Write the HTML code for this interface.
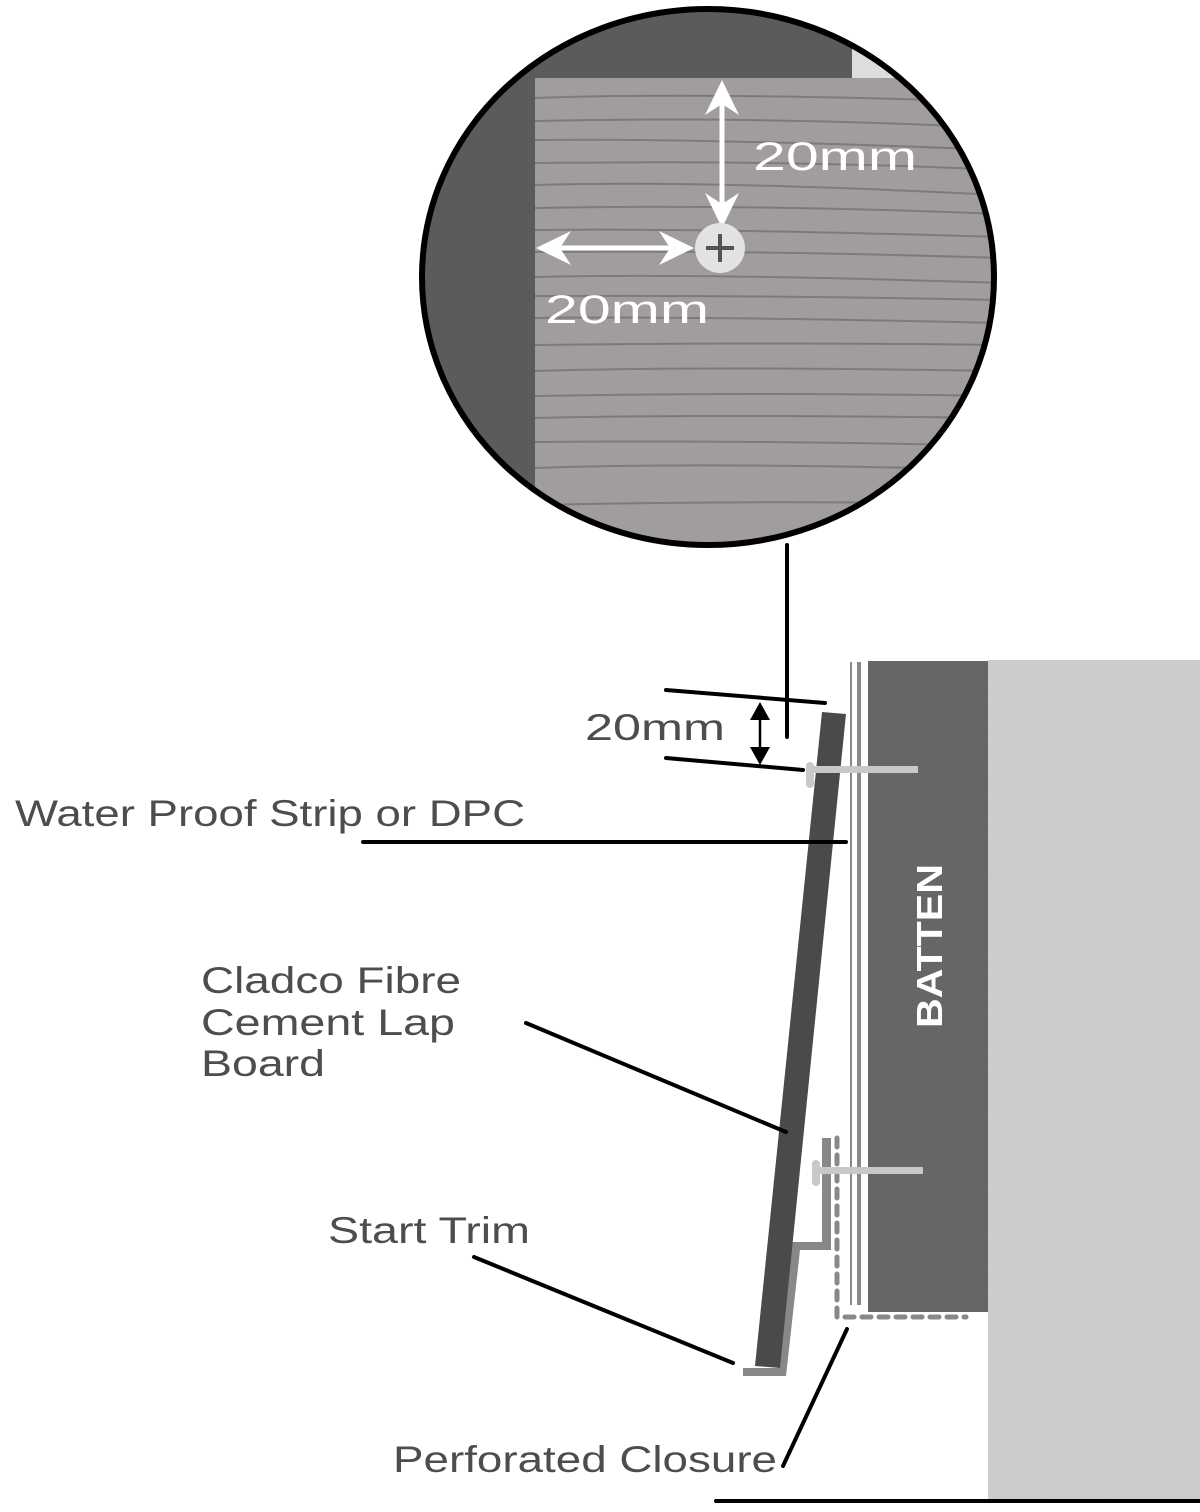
<!DOCTYPE html>
<html><head><meta charset="utf-8"><style>
html,body{margin:0;padding:0;background:#fff;width:1200px;height:1512px;overflow:hidden}
svg{display:block}
text{font-family:"Liberation Sans",sans-serif}
</style></head><body>
<svg width="1200" height="1512" viewBox="0 0 1200 1512" xmlns="http://www.w3.org/2000/svg">
<defs>
<clipPath id="cc"><ellipse cx="708" cy="277" rx="286" ry="268"/></clipPath>
<filter id="noise" x="0" y="0" width="1" height="1"><feTurbulence type="fractalNoise" baseFrequency="0.9" numOctaves="2" seed="3"/><feColorMatrix type="matrix" values="0 0 0 0 0.7  0 0 0 0 0.7  0 0 0 0 0.7  0 0 0 -0.9 0.75"/></filter>
</defs>
<!-- concrete -->
<rect x="988" y="660" width="212" height="840" fill="#c9c9c9"/>
<rect x="988" y="660" width="212" height="840" fill="#bbb" filter="url(#noise)" opacity="0.6"/>
<!-- batten -->
<rect x="868" y="661" width="120" height="651" fill="#666"/>
<text x="0" y="0" transform="translate(942,1028) rotate(-90)" fill="#fff" font-size="36" font-weight="bold" textLength="164" lengthAdjust="spacingAndGlyphs">BATTEN</text>
<!-- membrane lines -->
<line x1="851" y1="662" x2="851" y2="1305" stroke="#888" stroke-width="2"/>
<line x1="859" y1="662" x2="859" y2="1305" stroke="#888" stroke-width="4"/>
<!-- perforated closure -->
<path d="M837 1138 L837 1317 L966 1317" fill="none" stroke="#888" stroke-width="5" stroke-dasharray="9 8" stroke-linecap="round"/>
<!-- start trim -->
<path d="M822 1138 L831 1138 L831 1250 L800 1250 L786 1376 L743 1376 L743 1368 L778 1368 L792 1242 L822 1242 Z" fill="#888"/>
<!-- board -->
<polygon points="822,712 846,714 780,1368 755,1366" fill="#4a4a4a"/>
<!-- nails -->
<rect x="806" y="762" width="8" height="26" rx="4" fill="#c8c8c8"/>
<rect x="810" y="766" width="108" height="7" fill="#c8c8c8"/>
<rect x="812" y="1160" width="8" height="26" rx="4" fill="#c8c8c8"/>
<rect x="816" y="1167" width="107" height="7" fill="#c8c8c8"/>
<!-- circle detail -->
<g clip-path="url(#cc)">
<rect x="420" y="0" width="600" height="560" fill="#5b5b5b"/>
<rect x="852" y="40" width="160" height="40" fill="#ddd"/>
<rect x="535" y="78" width="480" height="480" fill="#a09d9c"/>
<g stroke="#7d7a79" stroke-width="2" fill="none">
<path d="M535 98 Q700 92 1000 102"/><path d="M535 121 Q760 116 1000 128"/><path d="M535 140 Q700 138 1000 150"/>
<path d="M535 163 Q800 160 1000 170"/><path d="M535 185 Q700 180 1000 195"/><path d="M535 208 Q760 204 1000 214"/>
<path d="M535 230 Q700 228 1000 237"/><path d="M535 252 Q760 250 1000 258"/><path d="M535 277 Q700 273 1000 283"/>
<path d="M535 296 Q760 295 1000 300"/><path d="M535 318 Q700 316 1000 323"/><path d="M535 345 Q760 342 1000 345"/>
<path d="M535 371 Q700 366 1000 371"/><path d="M535 396 Q760 392 1000 396"/><path d="M535 418 Q700 414 1000 418"/>
<path d="M535 442 Q760 440 1000 446"/><path d="M535 468 Q700 462 1000 470"/><path d="M535 505 Q760 500 1000 504"/>
</g>
</g>
<ellipse cx="708" cy="277" rx="286" ry="268" fill="none" stroke="#000" stroke-width="6"/>
<!-- circle arrows -->
<g fill="#fff" stroke="#fff">
<line x1="722" y1="100" x2="722" y2="206" stroke-width="5"/>
<polygon points="722,80 705,115 722,104 739,115" stroke="none"/>
<polygon points="722,228 705,193 722,204 739,193" stroke="none"/>
<line x1="555" y1="248" x2="675" y2="248" stroke-width="5"/>
<polygon points="536,248 571,231 560,248 571,265" stroke="none"/>
<polygon points="694,248 659,231 670,248 659,265" stroke="none"/>
</g>
<circle cx="720" cy="248" r="25" fill="#e2e2e2"/>
<path d="M720 234 V262 M706 248 H734" stroke="#555" stroke-width="4"/>
<text x="753" y="170" fill="#fff" font-size="40" textLength="164" lengthAdjust="spacingAndGlyphs">20mm</text>
<text x="545" y="323" fill="#fff" font-size="40" textLength="164" lengthAdjust="spacingAndGlyphs">20mm</text>
<!-- leaders -->
<g stroke="#000" stroke-width="4" stroke-linecap="round" fill="none">
<line x1="787" y1="545" x2="787" y2="737"/>
<line x1="666" y1="690" x2="825" y2="703"/>
<line x1="666" y1="758" x2="803" y2="770"/>
<line x1="363" y1="842" x2="846" y2="842"/>
<line x1="526" y1="1023" x2="786" y2="1132"/>
<line x1="474" y1="1257" x2="733" y2="1363"/>
<line x1="847" y1="1329" x2="783" y2="1466"/>
<line x1="716" y1="1501" x2="1200" y2="1501"/>
</g>
<line x1="760" y1="712" x2="760" y2="755" stroke="#000" stroke-width="2.5"/>
<polygon points="760,702 750,720 770,720" fill="#000"/>
<polygon points="760,765 750,747 770,747" fill="#000"/>
<!-- labels -->
<g fill="#4d4d4d" font-size="37">
<text x="585" y="740" textLength="140" lengthAdjust="spacingAndGlyphs">20mm</text>
<text x="15" y="826" textLength="510" lengthAdjust="spacingAndGlyphs">Water Proof Strip or DPC</text>
<text x="201" y="993" textLength="260" lengthAdjust="spacingAndGlyphs">Cladco Fibre</text>
<text x="201" y="1035" textLength="254" lengthAdjust="spacingAndGlyphs">Cement Lap</text>
<text x="201" y="1076" textLength="124" lengthAdjust="spacingAndGlyphs">Board</text>
<text x="328" y="1243" textLength="202" lengthAdjust="spacingAndGlyphs">Start Trim</text>
<text x="393" y="1472" textLength="384" lengthAdjust="spacingAndGlyphs">Perforated Closure</text>
</g>
</svg>
</body></html>
